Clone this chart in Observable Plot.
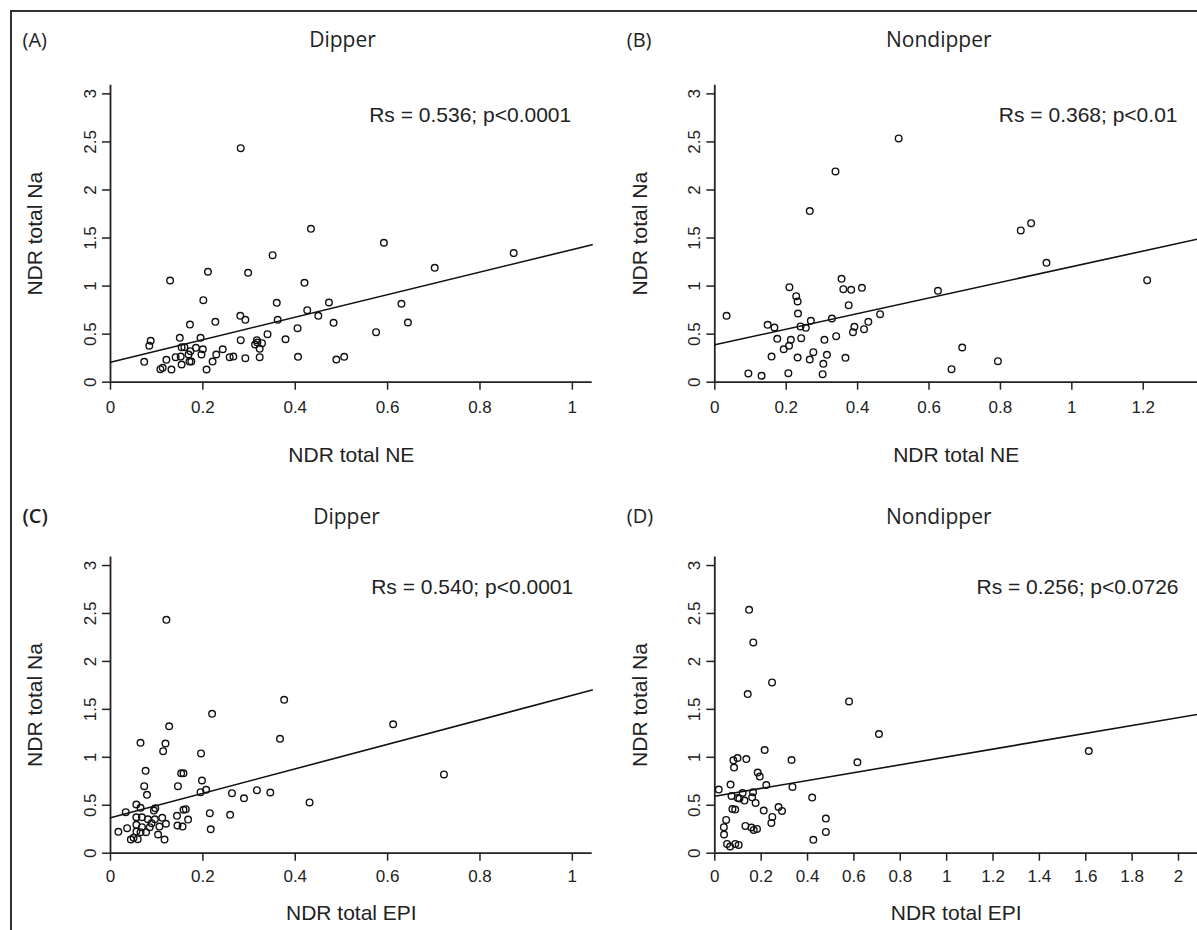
<!DOCTYPE html>
<html><head><meta charset="utf-8">
<script src="https://cdn.jsdelivr.net/npm/d3@7"></script>
<script src="https://cdn.jsdelivr.net/npm/@observablehq/plot@0.6"></script>
<style>
html,body{margin:0;padding:0;background:#fff;}
#fig{position:relative;width:1197px;height:930px;overflow:hidden;background:#fff;}
.frame{position:absolute;left:10px;top:10px;right:-10px;bottom:-10px;border-left:2px solid #333;border-top:2px solid #333;}
.panel{position:absolute;}
</style></head><body>
<div id="fig"><div class="frame"></div></div>
<script>
// ---- data ----
const yTicks = [0, 0.5, 1, 1.5, 2, 2.5, 3];
const xTicksA = [0, 0.2, 0.4, 0.6, 0.8, 1];
const xTicksB = [0, 0.2, 0.4, 0.6, 0.8, 1, 1.2];
const xTicksC = [0, 0.2, 0.4, 0.6, 0.8, 1];
const xTicksD = [0, 0.2, 0.4, 0.6, 0.8, 1, 1.2, 1.4, 1.6, 1.8, 2];

const aNE = [0.282,0.434,0.351,0.211,0.298,0.129,0.420,0.201,0.360,0.473,0.426,0.450,0.281,0.292,0.362,0.227,0.483,0.172,0.405,0.340,0.150,0.195,0.087,0.084,0.282,0.379,0.317,0.318,0.328,0.313,0.323,0.154,0.160,0.185,0.200,0.243,0.173,0.169,0.197,0.229,0.152,0.141,0.121,0.258,0.266,0.323,0.292,0.406,0.489,0.506,0.073,0.171,0.175,0.221,0.154,0.113,0.108,0.132,0.208,0.592,0.873,0.702,0.630,0.644,0.575];
const aNa = [2.435,1.596,1.322,1.149,1.138,1.058,1.034,0.853,0.826,0.829,0.749,0.691,0.691,0.649,0.649,0.628,0.618,0.600,0.562,0.500,0.462,0.462,0.431,0.379,0.437,0.447,0.437,0.413,0.406,0.392,0.347,0.364,0.364,0.358,0.343,0.343,0.323,0.288,0.288,0.288,0.267,0.260,0.233,0.260,0.267,0.260,0.250,0.264,0.236,0.264,0.212,0.215,0.215,0.215,0.184,0.150,0.135,0.132,0.132,1.451,1.343,1.190,0.816,0.621,0.520];

const bNE = [0.515,0.338,0.266,0.355,0.209,0.360,0.382,0.412,0.625,0.228,0.232,0.375,0.033,0.233,0.463,0.328,0.269,0.148,0.167,0.240,0.255,0.430,0.391,0.387,0.418,0.175,0.213,0.242,0.307,0.340,0.208,0.193,0.276,0.159,0.232,0.266,0.314,0.366,0.304,0.094,0.131,0.206,0.302,0.663,0.857,0.886,0.929,1.211,0.693,0.793];
const bNa = [2.536,2.193,1.780,1.076,0.989,0.968,0.961,0.982,0.951,0.895,0.840,0.801,0.691,0.715,0.708,0.663,0.639,0.597,0.569,0.580,0.566,0.628,0.576,0.520,0.552,0.451,0.441,0.458,0.441,0.479,0.379,0.343,0.312,0.267,0.257,0.236,0.285,0.254,0.191,0.091,0.067,0.094,0.083,0.135,1.579,1.655,1.242,1.062,0.361,0.219];

const cEPI = [0.121,0.376,0.220,0.367,0.127,0.065,0.119,0.114,0.196,0.076,0.153,0.158,0.198,0.073,0.146,0.079,0.195,0.207,0.263,0.317,0.346,0.289,0.431,0.056,0.065,0.033,0.094,0.097,0.158,0.163,0.215,0.259,0.144,0.056,0.068,0.081,0.096,0.112,0.168,0.089,0.120,0.056,0.068,0.085,0.106,0.145,0.156,0.036,0.017,0.056,0.065,0.077,0.217,0.103,0.044,0.050,0.059,0.117,0.612,0.722];
const cNa = [2.434,1.600,1.453,1.193,1.324,1.151,1.144,1.064,1.040,0.859,0.834,0.834,0.758,0.699,0.699,0.609,0.636,0.661,0.626,0.657,0.633,0.573,0.529,0.508,0.473,0.428,0.445,0.469,0.453,0.459,0.417,0.400,0.390,0.375,0.375,0.354,0.354,0.369,0.351,0.313,0.307,0.296,0.271,0.271,0.278,0.289,0.278,0.261,0.223,0.226,0.219,0.219,0.250,0.195,0.143,0.161,0.146,0.143,1.345,0.821];

const dEPI = [0.148,0.166,0.247,0.142,0.579,0.708,0.215,0.098,0.136,0.080,0.331,0.615,0.083,0.185,0.194,0.017,0.068,0.222,0.335,0.120,0.165,0.072,0.099,0.106,0.128,0.161,0.176,0.420,0.076,0.088,0.211,0.275,0.290,0.248,0.244,0.049,0.479,0.132,0.158,0.168,0.182,0.039,0.040,0.479,0.053,0.066,0.088,0.103,0.425,1.613];
const dNa = [2.538,2.198,1.781,1.659,1.583,1.243,1.076,0.993,0.982,0.969,0.972,0.948,0.893,0.841,0.799,0.664,0.716,0.711,0.691,0.628,0.635,0.597,0.576,0.570,0.549,0.583,0.524,0.580,0.461,0.455,0.445,0.482,0.441,0.378,0.316,0.347,0.361,0.284,0.268,0.243,0.253,0.271,0.195,0.222,0.097,0.070,0.097,0.086,0.139,1.066];

// fitted lines: [intercept, slope]
const fitA = [0.208, 1.172];
const fitB = [0.389, 0.813];
const fitC = [0.369, 1.277];
const fitD = [0.594, 0.410];

const letters = ["(A)", "(B)", "(C)", "(D)"];
const titles = ["Dipper", "Nondipper", "Dipper", "Nondipper"];
const stats = ["Rs = 0.536; p<0.0001", "Rs = 0.368; p<0.01", "Rs = 0.540; p<0.0001", "Rs = 0.256; p<0.0726"];
const xLabels = ["NDR total NE", "NDR total NE", "NDR total EPI", "NDR total EPI"];
const yLabel = "NDR total Na";

const fmt = d => String(d);
const SANS = "'Liberation Sans', Arial, Helvetica, sans-serif";
const HUM = "'Open Sans', 'Noto Sans', sans-serif";

function panel(cfg) {
  const pts = cfg.xs.map((x, i) => ({x, y: cfg.ys[i]}));
  const fitPts = [0, cfg.xmax].map(x => ({x, y: cfg.fit[0] + cfg.fit[1] * x}));
  const svg = Plot.plot({
    width: cfg.width, height: cfg.height,
    marginLeft: cfg.mL, marginRight: cfg.mR, marginTop: cfg.mT, marginBottom: cfg.mB,
    style: {fontFamily: SANS, color: "#222", background: "transparent", overflow: "visible"},
    x: {domain: [0, cfg.xmax], axis: null},
    y: {domain: [0, cfg.ymax], axis: null},
    marks: [
      Plot.ruleY([0], {stroke: "#222", strokeWidth: 1.8}),
      Plot.ruleX([0], {stroke: "#222", strokeWidth: 1.8}),
      Plot.axisX(cfg.xTicks, {label: null, tickSize: 8, tickPadding: cfg.tickPad, tickFormat: fmt, fontSize: 17, strokeWidth: 1.5}),
      Plot.axisY(yTicks, {label: null, tickSize: 8, tickPadding: 7, tickRotate: -90, tickFormat: fmt, fontSize: 17, strokeWidth: 1.5}),
      Plot.line(fitPts, {x: "x", y: "y", stroke: "#111", strokeWidth: 1.6}),
      Plot.dot(pts, {x: "x", y: "y", r: 3.3, stroke: "#111", strokeWidth: 1.4, fill: "none"}),
      Plot.text([cfg.stat], {frameAnchor: "top-right", dx: cfg.statDx, dy: cfg.statDy, textAnchor: "end", lineAnchor: "middle", fontSize: 21, fill: "#222"}),
      Plot.text([cfg.xLabel], {frameAnchor: "bottom", dy: cfg.xTitleDy, lineAnchor: "middle", fontSize: 21, fill: "#222"}),
      Plot.text([yLabel], {frameAnchor: "left", dx: -75, rotate: -90, textAnchor: "middle", lineAnchor: "middle", fontSize: 21, fill: "#222"}),
      Plot.text([cfg.title], {frameAnchor: "top-left", dx: cfg.titleDx, dy: cfg.titleDy, textAnchor: "middle", lineAnchor: "middle", fontSize: 21, fontFamily: HUM, fill: "#222"}),
      Plot.text([cfg.letter], {frameAnchor: "top-left", dx: -88, dy: cfg.titleDy, textAnchor: "start", lineAnchor: "middle", fontSize: 20, fontFamily: HUM, fontWeight: cfg.letterWeight, fill: "#222"})
    ]
  });
  const wrap = document.createElement("div");
  wrap.className = "panel";
  wrap.style.left = cfg.left + "px";
  wrap.style.top = cfg.top + "px";
  wrap.appendChild(svg);
  document.getElementById("fig").appendChild(wrap);
}

const row1 = {top: 0, height: 471, mT: 84.8, mB: 89.3, ymax: 3.089, tickPad: 11, xTitleDy: 73, titleDy: -45, statDy: 30};
const row2 = {top: 471, height: 459, mT: 85.4, mB: 77.3, ymax: 3.09, tickPad: 9, xTitleDy: 60, titleDy: -40, statDy: 30};
const colL = {left: 0, width: 598, mL: 110, mR: 6.3};
const colR = {left: 598, width: 599, mL: 116.3, mR: 0};

panel({...row1, ...colL, xmax: 1.043, xs: aNE, ys: aNa, fit: fitA, xTicks: xTicksA, xLabel: xLabels[0], letter: letters[0], letterWeight: 400, title: titles[0], titleDx: 232, stat: stats[0], statDx: -21});
panel({...row1, ...colR, xmax: 1.352, xs: bNE, ys: bNa, fit: fitB, xTicks: xTicksB, xLabel: xLabels[1], letter: letters[1], letterWeight: 400, title: titles[1], titleDx: 224, stat: stats[1], statDx: -20});
panel({...row2, ...colL, xmax: 1.043, xs: cEPI, ys: cNa, fit: fitC, xTicks: xTicksC, xLabel: xLabels[2], letter: letters[2], letterWeight: 600, title: titles[2], titleDx: 236, stat: stats[2], statDx: -19});
panel({...row2, ...colR, xmax: 2.082, xs: dEPI, ys: dNa, fit: fitD, xTicks: xTicksD, xLabel: xLabels[3], letter: letters[3], letterWeight: 400, title: titles[3], titleDx: 224, stat: stats[3], statDx: -19});
</script>
</body></html>
